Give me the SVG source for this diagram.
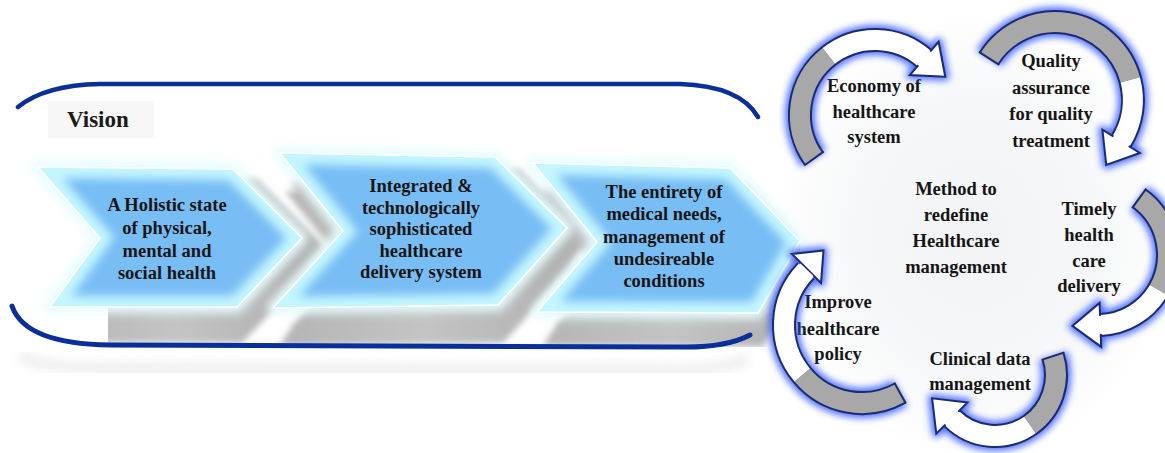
<svg xmlns="http://www.w3.org/2000/svg" xmlns:xlink="http://www.w3.org/1999/xlink" width="1165" height="453" viewBox="0 0 1165 453">
<style>
.t{font-family:"Liberation Serif","Times New Roman",serif;font-weight:bold;font-size:18.5px;fill:#151515;text-anchor:middle}
.vision{font-family:"Liberation Serif","Times New Roman",serif;font-weight:bold;font-size:23px;fill:#1a1a1a}
.bracket{fill:none;stroke:#0b2f98;stroke-width:4.5;stroke-linecap:round}
.chglow{fill:none;stroke:#e6fcff;stroke-width:12;stroke-linejoin:round}
.chfill{fill:#78bdf4}
.chedge{fill:none;stroke:#c4f6ff;stroke-width:22;stroke-linejoin:miter}
.chline{fill:none;stroke:#ffffff;stroke-width:1.5}
.glowband{fill:none;stroke:#3358ff;stroke-width:30}
.glowhead{fill:#3358ff;stroke:#3358ff;stroke-width:8;stroke-linejoin:round}
.edge{fill:none;stroke:#1c2b6e;stroke-width:24}
.tail{fill:none;stroke:#a8a8a8;stroke-width:20}
.front{fill:none;stroke:#ffffff;stroke-width:20}
.head{fill:#ffffff;stroke:#1c2b6e;stroke-width:2;stroke-linejoin:miter}
.cap{stroke:#1c2b6e;stroke-width:2}
.seam{stroke:#ffffff;stroke-width:3}
</style>
<defs>
<filter id="b3" x="-20%" y="-20%" width="140%" height="140%"><feGaussianBlur stdDeviation="3"/></filter>
<filter id="b5" x="-20%" y="-20%" width="140%" height="140%"><feGaussianBlur stdDeviation="5"/></filter>
<filter id="glow" x="-30%" y="-30%" width="160%" height="160%"><feGaussianBlur stdDeviation="3.5"/></filter>
<radialGradient id="cyclebg" cx="0.5" cy="0.5" r="0.5">
<stop offset="0" stop-color="#f3f4f6"/><stop offset="0.6" stop-color="#f6f7f8"/><stop offset="1" stop-color="#ffffff"/>
</radialGradient>
<linearGradient id="shgrad" x1="0" y1="0" x2="1" y2="0">
<stop offset="0" stop-color="#b4b4b4"/><stop offset="0.5" stop-color="#c4c4c4"/><stop offset="1" stop-color="#b0b0b0"/>
</linearGradient>
<polygon id="ch1" points="38,167 233,169 302,238 237,307 50,307 100,238"/>
<polygon id="ch2" points="280,153 495,157 567,228 498,305 273,308 343,231"/>
<polygon id="ch3" points="533,163 730,168 800,241 758,313 537,312 597,242"/>
<clipPath id="cc1"><use xlink:href="#ch1"/></clipPath>
<clipPath id="cc2"><use xlink:href="#ch2"/></clipPath>
<clipPath id="cc3"><use xlink:href="#ch3"/></clipPath>
<clipPath id="shclip"><rect x="108" y="150" width="692" height="197"/></clipPath>
<path id="a1" d="M813.9,158.6 A75,75 0 0 1 828.8,55.9 A75,75 0 0 1 924.2,58.4"/>
<path id="a1t" d="M813.9,158.6 A75,75 0 0 1 828.8,55.9"/>
<path id="a1f" d="M828.8,55.9 A75,75 0 0 1 924.2,58.4"/>
<polygon id="a1h" points="938.6,41.8 945.3,76.8 909.8,75"/>
<path id="a2" d="M989.1,58.3 A78,78 0 0 1 1130.3,79.8 A78,78 0 0 1 1121.1,141.3"/>
<path id="a2t" d="M989.1,58.3 A78,78 0 0 1 1130.3,79.8"/>
<path id="a2f" d="M1130.3,79.8 A78,78 0 0 1 1121.1,141.3"/>
<polygon id="a2h" points="1139.8,153 1106.3,165 1102.4,129.6"/>
<path id="a3" d="M1139.2,198.4 A70,70 0 0 1 1158.6,290 A70,70 0 0 1 1100.4,324.9"/>
<path id="a3t" d="M1139.2,198.4 A70,70 0 0 1 1158.6,290"/>
<path id="a3f" d="M1158.6,290 A70,70 0 0 1 1100.4,324.9"/>
<polygon id="a3h" points="1101.2,346.9 1072.4,325.9 1099.6,302.9"/>
<path id="a4" d="M1053,356.2 A61,61 0 0 1 1030,425 A61,61 0 0 1 951.9,418.1"/>
<path id="a4t" d="M1053,356.2 A61,61 0 0 1 1030,425"/>
<path id="a4f" d="M1030,425 A61,61 0 0 1 951.9,418.1"/>
<polygon id="a4h" points="936.3,433.7 932.1,398.3 967.5,402.5"/>
<path id="a5" d="M900.1,393.1 A78,78 0 0 1 802.2,375.1 A78,78 0 0 1 805.9,270.8"/>
<path id="a5t" d="M900.1,393.1 A78,78 0 0 1 802.2,375.1"/>
<path id="a5f" d="M802.2,375.1 A78,78 0 0 1 805.9,270.8"/>
<polygon id="a5h" points="792,254 823.5,250.5 821,283"/>
</defs>

<rect x="0" y="0" width="1165" height="453" fill="#ffffff"/>
<ellipse cx="975" cy="235" rx="200" ry="225" fill="url(#cyclebg)"/>

<g id="vision-frame">
<rect x="48" y="101" width="106" height="37" fill="#f7f7f7"/>
<text class="vision" x="67" y="127">Vision</text>
<path d="M20,355 Q35,368 110,368 L680,370 Q725,370 748,358" fill="none" stroke="#f0f0f0" stroke-width="12" filter="url(#b5)"/>
<g id="extrusion" clip-path="url(#shclip)">
<g filter="url(#b3)" fill="url(#shgrad)">
<use xlink:href="#ch1" transform="translate(24,10)"/>
<use xlink:href="#ch1" transform="translate(17,18)"/>
<use xlink:href="#ch1" transform="translate(11,27)"/>
<use xlink:href="#ch1" transform="translate(5,36)"/>
<use xlink:href="#ch2" transform="translate(24,12)"/>
<use xlink:href="#ch2" transform="translate(17,20)"/>
<use xlink:href="#ch2" transform="translate(11,29)"/>
<use xlink:href="#ch2" transform="translate(5,38)"/>
<use xlink:href="#ch3" transform="translate(16,16)"/>
<use xlink:href="#ch3" transform="translate(10,26)"/>
<use xlink:href="#ch3" transform="translate(5,34)"/>
</g>
</g>
<path class="bracket" d="M18,107 Q45,85 100,84 L680,84 Q740,86 758,117"/>
<path class="bracket" d="M12,306 Q25,344 110,345 L680,347 Q725,348 750,335" style="stroke-width:5"/>
</g>

<g id="node-holistic">
<use xlink:href="#ch1" class="chglow" filter="url(#b5)"/>
<use xlink:href="#ch1" class="chfill"/>
<g clip-path="url(#cc1)"><use xlink:href="#ch1" class="chedge" filter="url(#b5)"/></g>
<use xlink:href="#ch1" class="chline"/>
<text class="t" x="167" y="211">A Holistic state</text>
<text class="t" x="167" y="234">of physical,</text>
<text class="t" x="167" y="257">mental and</text>
<text class="t" x="167" y="279">social health</text>
</g>

<g id="node-integrated">
<use xlink:href="#ch2" class="chglow" filter="url(#b5)"/>
<use xlink:href="#ch2" class="chfill"/>
<g clip-path="url(#cc2)"><use xlink:href="#ch2" class="chedge" filter="url(#b5)"/></g>
<use xlink:href="#ch2" class="chline"/>
<text class="t" x="421" y="192">Integrated &amp;</text>
<text class="t" x="421" y="214">technologically</text>
<text class="t" x="421" y="235">sophisticated</text>
<text class="t" x="421" y="257">healthcare</text>
<text class="t" x="421" y="278">delivery system</text>
</g>

<g id="node-entirety">
<use xlink:href="#ch3" class="chglow" filter="url(#b5)"/>
<use xlink:href="#ch3" class="chfill"/>
<g clip-path="url(#cc3)"><use xlink:href="#ch3" class="chedge" filter="url(#b5)"/></g>
<use xlink:href="#ch3" class="chline"/>
<text class="t" x="664" y="198">The entirety of</text>
<text class="t" x="664" y="220">medical needs,</text>
<text class="t" x="664" y="243">management of</text>
<text class="t" x="664" y="265">undesireable</text>
<text class="t" x="664" y="287">conditions</text>
</g>

<g id="node-method">
<text class="t" x="956" y="195">Method to</text>
<text class="t" x="956" y="221">redefine</text>
<text class="t" x="956" y="247">Healthcare</text>
<text class="t" x="956" y="273">management</text>
</g>
<g id="node-economy">
<text class="t" x="874" y="92">Economy of</text>
<text class="t" x="874" y="117.5">healthcare</text>
<text class="t" x="874" y="143">system</text>
</g>
<g id="node-quality">
<text class="t" x="1051" y="67">Quality</text>
<text class="t" x="1051" y="93.5">assurance</text>
<text class="t" x="1051" y="120">for quality</text>
<text class="t" x="1051" y="146.5">treatment</text>
</g>
<g id="node-timely">
<text class="t" x="1089" y="215">Timely</text>
<text class="t" x="1089" y="241">health</text>
<text class="t" x="1089" y="267">care</text>
<text class="t" x="1089" y="292">delivery</text>
</g>
<g id="node-clinical">
<text class="t" x="980" y="365">Clinical data</text>
<text class="t" x="980" y="390">management</text>
</g>
<g id="node-policy">
<text class="t" x="838" y="308">Improve</text>
<text class="t" x="838" y="335">healthcare</text>
<text class="t" x="838" y="360">policy</text>
</g>

<g id="connectors">
<g filter="url(#glow)" opacity="0.85">
<use xlink:href="#a1" class="glowband"/><use xlink:href="#a1h" class="glowhead"/>
<use xlink:href="#a2" class="glowband"/><use xlink:href="#a2h" class="glowhead"/>
<use xlink:href="#a3" class="glowband"/><use xlink:href="#a3h" class="glowhead"/>
<use xlink:href="#a4" class="glowband"/><use xlink:href="#a4h" class="glowhead"/>
<use xlink:href="#a5" class="glowband"/><use xlink:href="#a5h" class="glowhead"/>
</g>
<g id="arrow-1">
<use xlink:href="#a1" class="edge"/><use xlink:href="#a1t" class="tail"/><use xlink:href="#a1f" class="front"/>
<use xlink:href="#a1h" class="head"/><line class="seam" x1="930.1" y1="51.6" x2="918.3" y2="65.2"/>
<line class="cap" x1="823.7" y1="151.6" x2="804.2" y2="165.5"/>
</g>
<g id="arrow-2">
<use xlink:href="#a2" class="edge"/><use xlink:href="#a2t" class="tail"/><use xlink:href="#a2f" class="front"/>
<use xlink:href="#a2h" class="head"/><line class="seam" x1="1128.7" y1="146.1" x2="1113.5" y2="136.5"/>
<line class="cap" x1="999.2" y1="64.8" x2="978.9" y2="51.9"/>
</g>
<g id="arrow-3">
<use xlink:href="#a3" class="edge"/><use xlink:href="#a3t" class="tail"/><use xlink:href="#a3f" class="front"/>
<use xlink:href="#a3h" class="head"/><line class="seam" x1="1100.7" y1="333.9" x2="1100.1" y2="315.9"/>
<line class="cap" x1="1132.1" y1="208.1" x2="1146.2" y2="188.7"/>
</g>
<g id="arrow-4">
<use xlink:href="#a4" class="edge"/><use xlink:href="#a4t" class="tail"/><use xlink:href="#a4f" class="front"/>
<use xlink:href="#a4h" class="head"/><line class="seam" x1="945.5" y1="424.5" x2="958.3" y2="411.7"/>
<line class="cap" x1="1041.6" y1="359.9" x2="1064.4" y2="352.4"/>
</g>
<g id="arrow-5">
<use xlink:href="#a5" class="edge"/><use xlink:href="#a5t" class="tail"/><use xlink:href="#a5f" class="front"/>
<use xlink:href="#a5h" class="head"/><line class="seam" x1="799.4" y1="264.5" x2="812.4" y2="277.1"/>
<line class="cap" x1="894.2" y1="382.6" x2="905.9" y2="403.6"/>
</g>
</g>
</svg>
